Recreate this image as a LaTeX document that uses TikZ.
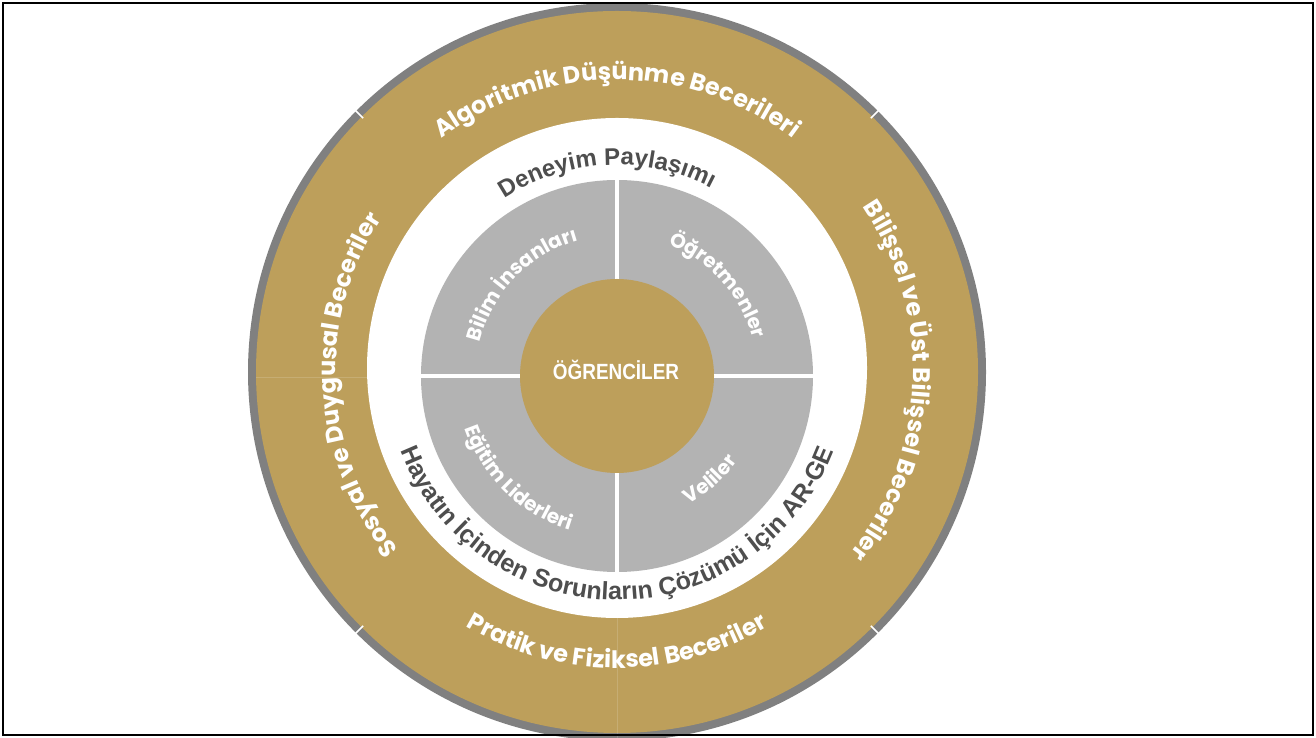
\documentclass[tikz,border=0pt]{standalone}
\usepackage{fontspec}
\usetikzlibrary{decorations.text}
\setmainfont{Liberation Sans}
\newfontfamily\popfont{Poppins}
\newfontfamily\condfont{Liberation Sans}[FakeStretch=0.86]
\definecolor{gold}{RGB}{189,159,91}
\definecolor{quad}{RGB}{179,179,179}
\definecolor{rim}{RGB}{128,128,128}
\definecolor{darktext}{RGB}{78,78,78}
\newcommand\outerfmt{\popfont\bfseries\fontsize{24}{24}\selectfont\color{white}}
\newcommand\quadfmt{\popfont\bfseries\fontsize{20}{20}\selectfont\color{white}}
\newcommand\ringtopfmt{\bfseries\fontsize{24}{24}\selectfont\color{darktext}}
\newcommand\ringbotfmt{\bfseries\fontsize{25}{25}\selectfont\color{darktext}}
\tikzset{
  arctext/.style={decorate, decoration={text along path, text align=center, text={#1}}},
  tick/.style={white, line width=1.6pt},
  seam/.style={white, opacity=0.15, line width=1pt},
  sep/.style={white, line width=4pt},
}
\begin{document}
\begin{tikzpicture}[x=1pt,y=1pt]
\useasboundingbox (0,0) rectangle (1316,738);
% outer rim and gold ring
\fill[rim] (617,366) circle[radius=369];
\fill[gold] (617,366) circle[radius=361];
\foreach \a in {45,135,225,315}
  \draw[tick, shift={(617,366)}] (\a:359) -- (\a:372);
\draw[seam, shift={(617,370)}] (270:250) -- (270:380);
\draw[seam, shift={(617,360)}] (180:250) -- (180:361);
% white ring
\fill[white] (617,370) circle[radius=250];
% quadrants
\fill[quad] (617,362) circle[radius=196];
\draw[sep, shift={(617,362)}] (0,-197) -- (0,197);
\draw[sep, shift={(617,362)}] (-197,0) -- (197,0);
% centre
\fill[gold] (617,362) circle[radius=97];
\node[text=white, font=\condfont\bfseries\fontsize{22}{22}\selectfont, inner sep=0pt] (students) at (616,368) {ÖĞRENCİLER};
% outer ring texts
\path[shift={(617,366)}, arctext={|\outerfmt|Algoritmik Düşünme Becerileri}]
  (150:292) arc[start angle=150, end angle=30, radius=292];
\path[shift={(617,366)}, arctext={|\outerfmt|Bilişsel ve Üst Bilişsel Beceriler}]
  (58:296) arc[start angle=58, end angle=-62, radius=296];
\path[shift={(617,366)}, arctext={|\outerfmt|Pratik ve Fiziksel Beceriler}]
  (210:296) arc[start angle=210, end angle=330, radius=296];
\path[shift={(617,366)}, arctext={|\outerfmt|Sosyal ve Duygusal Beceriler}]
  (243:281) arc[start angle=243, end angle=123, radius=281];
% white ring texts
\path[shift={(617,370)}, arctext={|\ringtopfmt|Deneyim Paylaşımı}]
  (153:203) arc[start angle=153, end angle=33, radius=203];
\path[shift={(617,370)}, arctext={|\ringbotfmt|Hayatın İçinden Sorunların Çözümü İçin AR-GE}]
  (180:232) arc[start angle=180, end angle=360, radius=232];
% quadrant texts
\path[shift={(617,362)}, arctext={|\quadfmt|Bilim İnsanları}]
  (196:141) arc[start angle=196, end angle=76, radius=141];
\path[shift={(617,362)}, arctext={|\quadfmt|Öğretmenler}]
  (102:141) arc[start angle=102, end angle=-18, radius=141];
\path[shift={(617,362)}, arctext={|\quadfmt|Eğitim Liderleri}]
  (166:161) arc[start angle=166, end angle=286, radius=161];
\path[shift={(617,362)}, arctext={|\quadfmt|Veliler}]
  (252:147) arc[start angle=252, end angle=372, radius=147];
% frame
\draw[black, line width=2pt] (3,3) rectangle (1313,735);
\end{tikzpicture}
\end{document}
